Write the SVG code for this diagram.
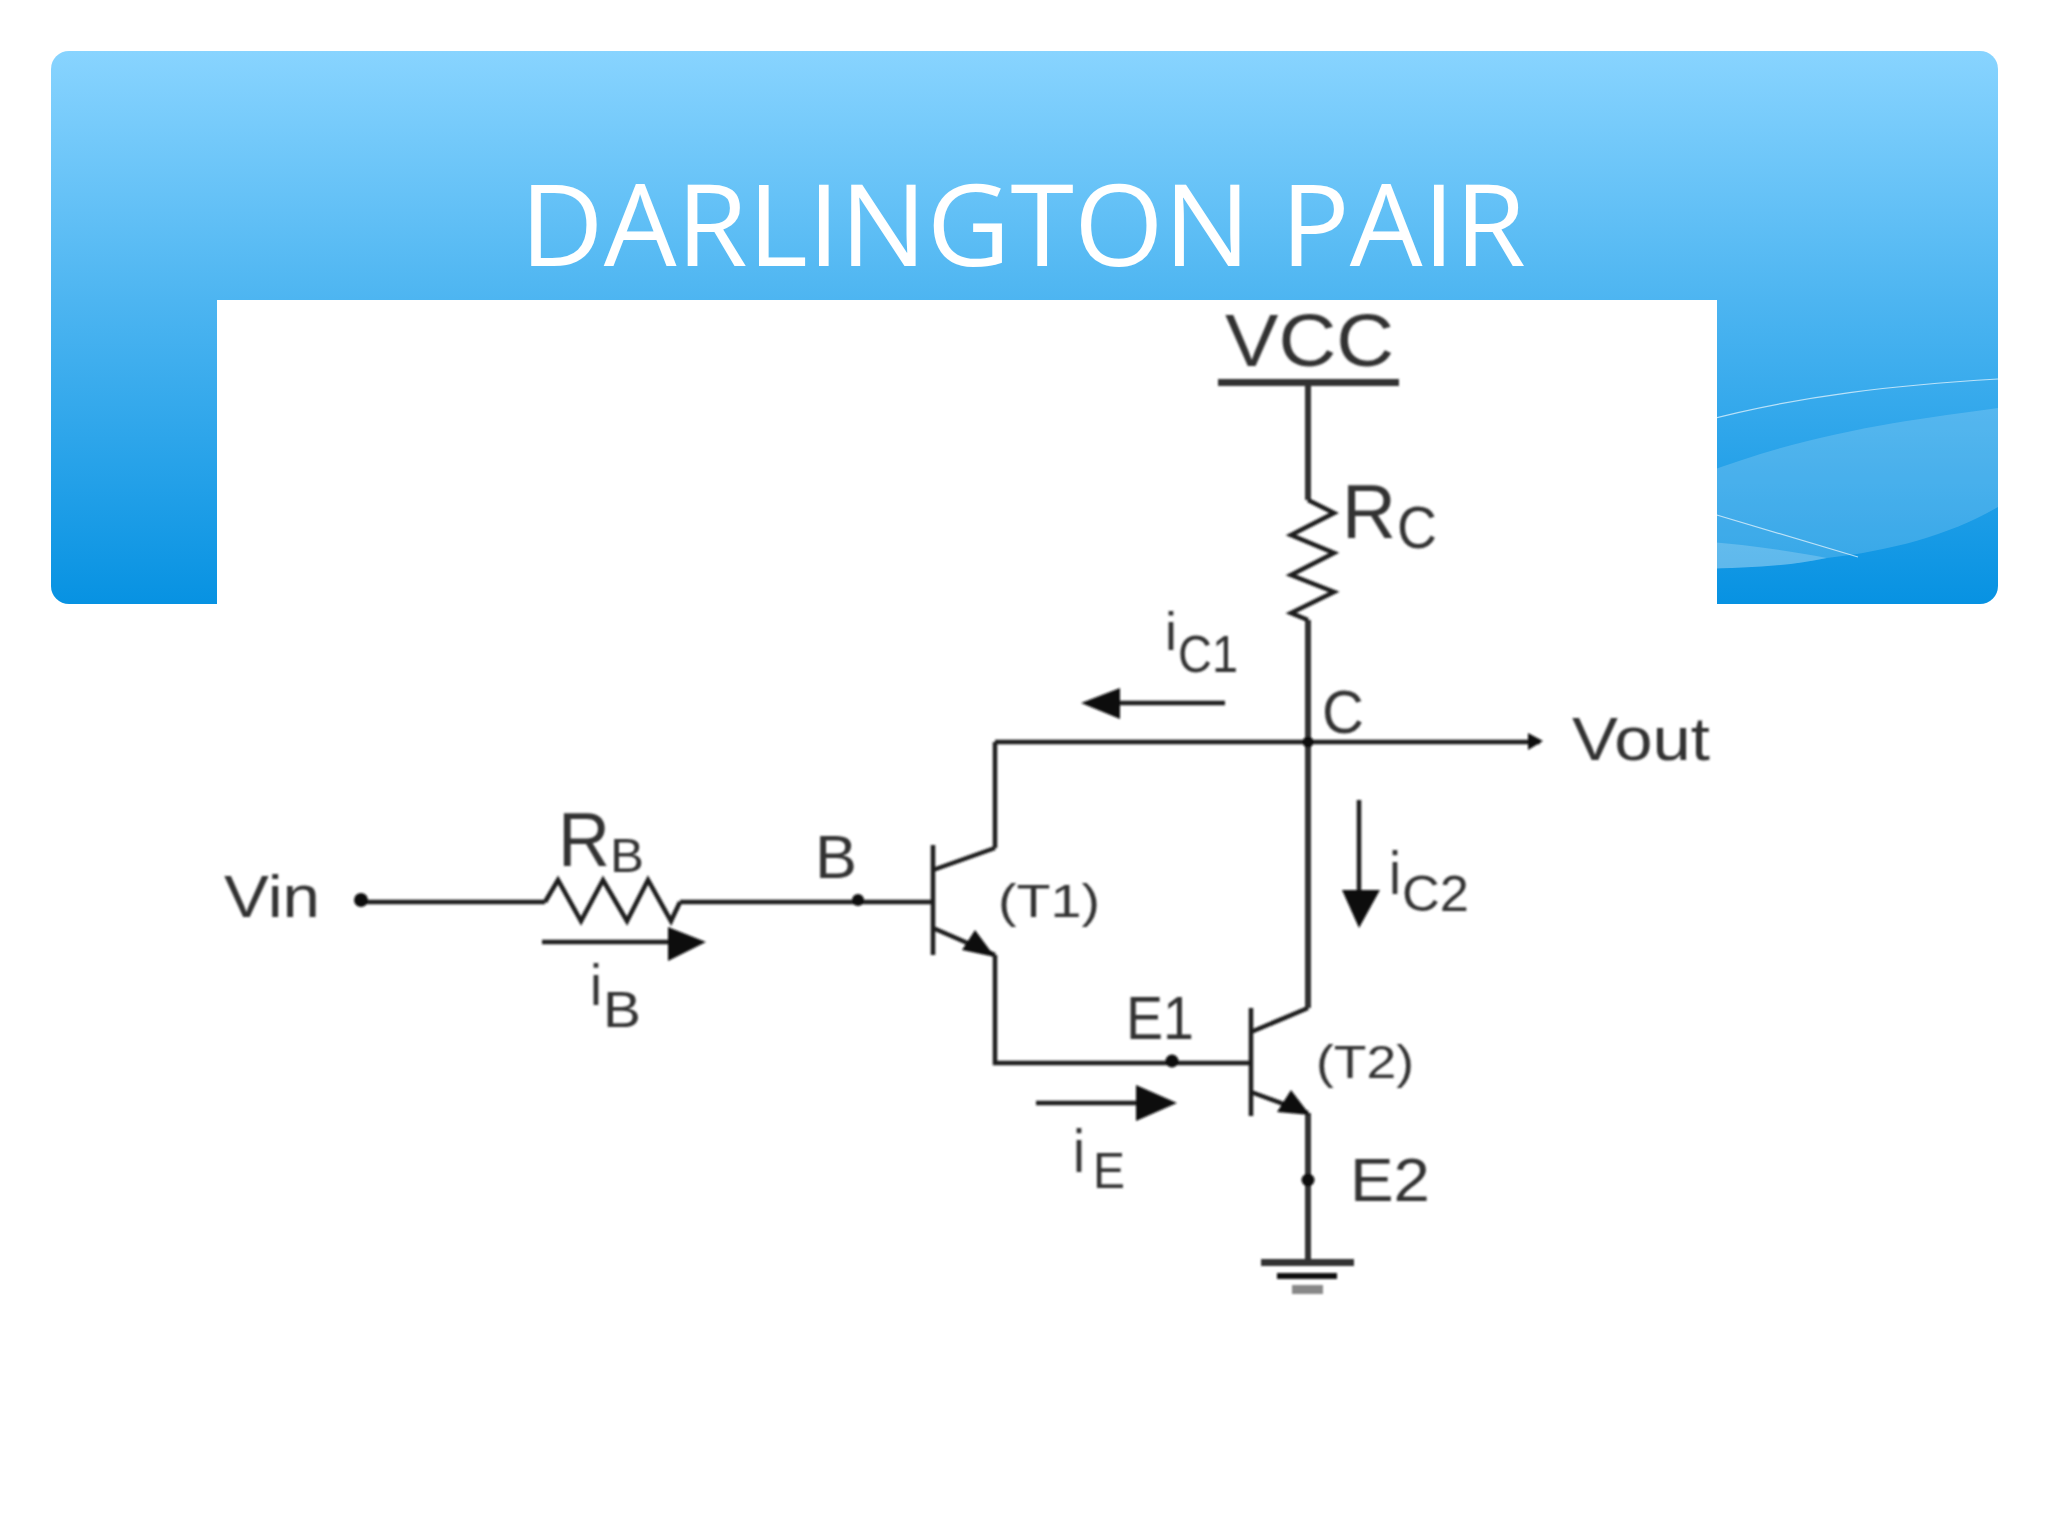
<svg xmlns="http://www.w3.org/2000/svg" width="2048" height="1536" viewBox="0 0 2048 1536">
<style>
.w{fill:none;stroke:#1c1c1c;stroke-width:4.5;stroke-linejoin:miter}
.v{stroke:#333;stroke-width:6}
.t{fill:#333;font-family:"Liberation Sans",Arial,sans-serif}
.h{fill:#111;stroke:none}
.title{fill:#fff;font-family:"Open Sans","Noto Sans",sans-serif;font-size:114px}
</style>
<defs>
<linearGradient id="bg" x1="0" y1="0" x2="0" y2="1">
<stop offset="0" stop-color="#88d4ff"/><stop offset="0.45" stop-color="#4db5f1"/><stop offset="1" stop-color="#0792e2"/>
</linearGradient>
<filter id="soft" x="-2%" y="-2%" width="104%" height="104%"><feGaussianBlur stdDeviation="0.8"/></filter>
</defs>
<rect width="2048" height="1536" fill="#fff"/>
<g id="banner">
<rect x="51" y="51" width="1947" height="553" rx="18" ry="18" fill="url(#bg)"/>
<path d="M1700 475C1810 432 1910 420 1998 408L1998 507C1950 535 1890 551 1827 558C1790 566 1750 568 1700 569Z" fill="#fff" fill-opacity="0.17"/>
<path d="M1700 541C1750 545 1790 551 1827 558C1790 566 1750 568 1700 569Z" fill="#fff" fill-opacity="0.2"/>
<path d="M1700 422C1800 395 1900 385 1998 379" fill="none" stroke="#fff" stroke-opacity="0.65" stroke-width="1.2"/>
<path d="M1700 510L1858 557" fill="none" stroke="#fff" stroke-opacity="0.65" stroke-width="1.2"/>
<rect id="picture" x="217" y="300" width="1500" height="1236" fill="#fff"/>
<text id="title" class="title" x="520" y="266" textLength="1006" lengthAdjust="spacingAndGlyphs">DARLINGTON PAIR</text>
</g>
<g filter="url(#soft)">
<g id="connectors">
<path class="w v" d="M1308 382V500"/>
<path class="w v" d="M1308 620V1008"/>
<path class="w" d="M995 742H1540"/>
<path class="w" d="M361 902H545"/>
<path class="w" d="M680 902H933"/>
<path class="w" d="M995 848V742"/>
<path class="w" d="M995 955V1063H1251"/>
<path class="w v" d="M1308 1113V1263"/>
</g>
<g id="vcc">
<rect x="1218" y="379" width="181" height="7" fill="#333"/>
<text class="t" x="1225" y="366" font-size="75" textLength="169" lengthAdjust="spacingAndGlyphs">VCC</text>
</g>
<g id="rc">
<path class="w" d="M1308 500L1334 513L1291 535L1334 553L1291 575L1334 592L1291 613L1308 620"/>
<text class="t" x="1342" y="538" font-size="76" textLength="54" lengthAdjust="spacingAndGlyphs">R</text>
<text class="t" x="1397" y="548" font-size="60" textLength="40" lengthAdjust="spacingAndGlyphs">C</text>
</g>
<g id="rb">
<path class="w" d="M545 902L558 880L581 921L603 880L627 921L648 880L671 921L680 902"/>
<text class="t" x="558" y="866" font-size="76" textLength="52" lengthAdjust="spacingAndGlyphs">R</text>
<text class="t" x="610" y="872" font-size="48" textLength="34" lengthAdjust="spacingAndGlyphs">B</text>
</g>
<g id="t1">
<path class="w" d="M933 845V955M933 870L995 848M933 928L995 955"/>
<path class="h" d="M995 957L962 950L975 930Z"/>
<text class="t" x="998" y="917" font-size="46" textLength="102" lengthAdjust="spacingAndGlyphs">(T1)</text>
</g>
<g id="t2">
<path class="w" d="M1251 1008V1116M1251 1032L1308 1008M1251 1092L1308 1113"/>
<path class="h" d="M1310 1115L1277 1112L1291 1090Z"/>
<text class="t" x="1316" y="1078" font-size="46" textLength="98" lengthAdjust="spacingAndGlyphs">(T2)</text>
</g>
<g id="ground">
<rect x="1261" y="1259" width="93" height="7" fill="#333"/>
<rect x="1277" y="1273" width="60" height="6" fill="#111"/>
<rect x="1292" y="1285" width="31" height="9" fill="#888"/>
</g>
<g id="junctions">
<circle class="h" cx="1308" cy="742" r="5.5"/>
<path class="h" d="M1528 733L1543 741L1528 750Z"/>
<circle class="h" cx="361" cy="900" r="7"/>
<circle class="h" cx="858" cy="900" r="6"/>
<circle class="h" cx="1172" cy="1061" r="6.5"/>
<circle class="h" cx="1308" cy="1180" r="6.5"/>
</g>
<g id="current-arrows">
<path class="w" d="M542 942H680"/><path class="h" d="M668 927L706 942L668 961Z"/>
<path class="w" d="M1036 1103H1150"/><path class="h" d="M1136 1085L1177 1103L1136 1121Z"/>
<path class="w" d="M1225 703H1110"/><path class="h" d="M1120 688L1081 703L1120 719Z"/>
<path class="w" d="M1359 800V900"/><path class="h" d="M1342 890H1380L1359 928Z"/>
</g>
<g id="labels">
<text class="t" x="224" y="917" font-size="60" textLength="96" lengthAdjust="spacingAndGlyphs">Vin</text>
<text class="t" x="1572" y="760" font-size="62" textLength="138" lengthAdjust="spacingAndGlyphs">Vout</text>
<text class="t" x="815" y="878" font-size="62" textLength="42" lengthAdjust="spacingAndGlyphs">B</text>
<text class="t" x="1322" y="733" font-size="62" textLength="42" lengthAdjust="spacingAndGlyphs">C</text>
<text class="t" x="1126" y="1039" font-size="62" textLength="68" lengthAdjust="spacingAndGlyphs">E1</text>
<text class="t" x="1350" y="1201" font-size="62" textLength="80" lengthAdjust="spacingAndGlyphs">E2</text>
<text class="t" x="590" y="1005" font-size="58" textLength="12" lengthAdjust="spacingAndGlyphs">i</text>
<text class="t" x="603" y="1027" font-size="50" textLength="38" lengthAdjust="spacingAndGlyphs">B</text>
<text class="t" x="1073" y="1172" font-size="62" textLength="12" lengthAdjust="spacingAndGlyphs">i</text>
<text class="t" x="1093" y="1188" font-size="50" textLength="32" lengthAdjust="spacingAndGlyphs">E</text>
<text class="t" x="1165" y="650" font-size="54" textLength="12" lengthAdjust="spacingAndGlyphs">i</text>
<text class="t" x="1178" y="672" font-size="52" textLength="60" lengthAdjust="spacingAndGlyphs">C1</text>
<text class="t" x="1389" y="894" font-size="62" textLength="12" lengthAdjust="spacingAndGlyphs">i</text>
<text class="t" x="1402" y="911" font-size="50" textLength="67" lengthAdjust="spacingAndGlyphs">C2</text>
</g>
</g>
</svg>
